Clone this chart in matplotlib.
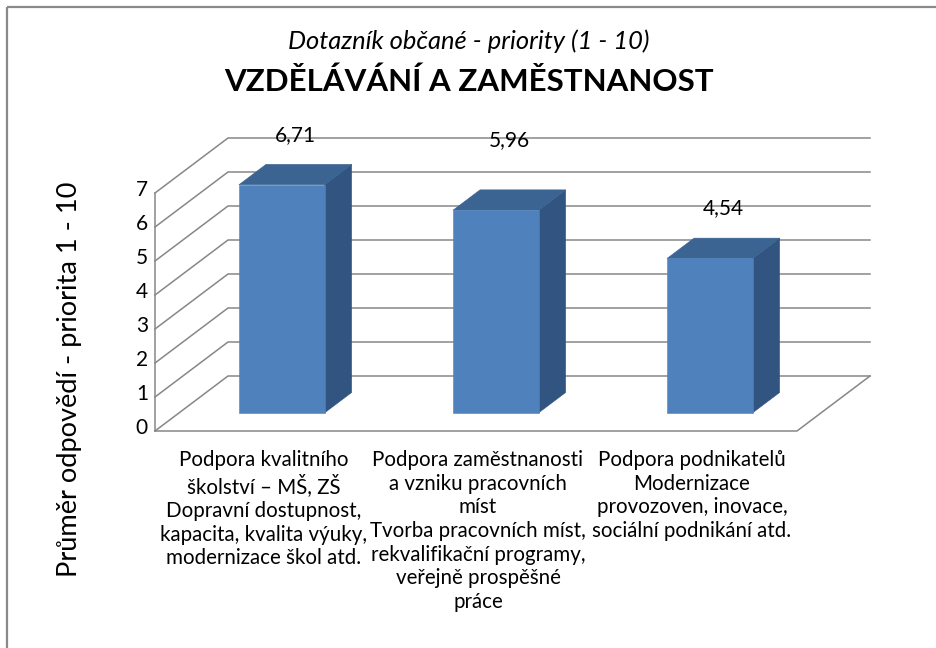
import matplotlib

matplotlib.use("Agg")

import matplotlib.pyplot as plt
from matplotlib.patches import Polygon, Rectangle

# survey results: mean priority score (1 - 10) per area
CATEGORIES = [
    "Podpora kvalitního\nškolství – MŠ, ZŠ\nDopravní dostupnost,\nkapacita, kvalita výuky,\nmodernizace škol atd.",
    "Podpora zaměstnanosti\na vzniku pracovních\nmíst\nTvorba pracovních míst,\nrekvalifikační programy,\nveřejně prospěšné\npráce",
    "Podpora podnikatelů\nModernizace\nprovozoven, inovace,\nsociální podnikání atd.",
]
VALUES = [6.71, 5.96, 4.54]
VALUE_LABELS = ["6,71", "5,96", "4,54"]
Y_TICKS = [0, 1, 2, 3, 4, 5, 6, 7]

SUBTITLE = "Dotazník občané - priority (1 - 10)"
TITLE = "VZDĚLÁVÁNÍ A ZAMĚSTNANOST"
Y_LABEL = "Průměr odpovědí - priorita 1 - 10"

FIG_W, FIG_H = 937, 648
DPI = 100
FONT = "Lato"

# oblique projection of the 3-D plot box, in pixels
ORIGIN = (155.0, 431.0)
CAT_PX = 214.0
VAL_PX = 34.0
DEPTH_PX = (73.0, -55.0)

BAR_LEFT, BAR_RIGHT = 0.28, 0.68
BAR_FRONT, BAR_BACK = 0.33, 0.70
LABEL_LIFT = [29, 50, 30]

GRID_COLOR = "#878787"
FRONT_COLOR = "#4F81BD"
TOP_COLOR = "#3B6492"
SIDE_COLOR = "#325480"


def project(cat: float, val: float, depth: float) -> tuple[float, float]:
    x = ORIGIN[0] + cat * CAT_PX + depth * DEPTH_PX[0]
    y = ORIGIN[1] - val * VAL_PX + depth * DEPTH_PX[1]
    return x, y


def draw_box(ax: plt.Axes) -> None:
    n = len(CATEGORIES)
    top = Y_TICKS[-1]
    # back wall and left wall gridlines
    for v in Y_TICKS:
        x0, y0 = project(0, v, 0)
        x1, y1 = project(0, v, 1)
        x2, y2 = project(n, v, 1)
        ax.plot([x0, x1, x2], [y0, y1, y2], color=GRID_COLOR, lw=1.1,
                solid_joinstyle="miter", zorder=1)
    # front-left axis edge
    xa, ya = project(0, 0, 0)
    xb, yb = project(0, top, 0)
    ax.plot([xa, xb], [ya, yb], color=GRID_COLOR, lw=1.1, zorder=1)
    # floor outline
    corners = [project(0, 0, 0), project(n, 0, 0), project(n, 0, 1)]
    ax.plot([c[0] for c in corners], [c[1] for c in corners],
            color=GRID_COLOR, lw=1.1, zorder=1)

    for v in Y_TICKS:
        x, y = project(0, v, 0)
        ax.text(x - 7, y - 3, str(v), ha="right", va="center",
                fontsize=15, family=FONT, color="black")


def draw_bars(ax: plt.Axes) -> None:
    for i, (value, label) in enumerate(zip(VALUES, VALUE_LABELS)):
        c0, c1 = i + BAR_LEFT, i + BAR_RIGHT
        front = [project(c0, 0, BAR_FRONT), project(c1, 0, BAR_FRONT),
                 project(c1, value, BAR_FRONT), project(c0, value, BAR_FRONT)]
        top = [project(c0, value, BAR_FRONT), project(c1, value, BAR_FRONT),
               project(c1, value, BAR_BACK), project(c0, value, BAR_BACK)]
        side = [project(c1, 0, BAR_FRONT), project(c1, 0, BAR_BACK),
                project(c1, value, BAR_BACK), project(c1, value, BAR_FRONT)]
        for pts, color in ((side, SIDE_COLOR), (top, TOP_COLOR), (front, FRONT_COLOR)):
            ax.add_patch(Polygon(pts, closed=True, facecolor=color,
                                 edgecolor=color, lw=0.4, zorder=3))

        mid = (BAR_FRONT + BAR_BACK) / 2
        lx, _ = project((c0 + c1) / 2, value, mid)
        _, ly = project(c0, value, BAR_BACK)
        ax.text(lx, ly - LABEL_LIFT[i], label, ha="center", va="center",
                fontsize=15, family=FONT, color="black", zorder=4)


def draw_labels(ax: plt.Axes) -> None:
    for i, text in enumerate(CATEGORIES):
        x, y = project(i + 0.5, 0, 0)
        ax.text(x + 2, y + 19, text, ha="center", va="top", ma="center",
                fontsize=14.8, family=FONT, linespacing=1.23, color="black")

    ax.text(FIG_W / 2, 41, SUBTITLE, ha="center", va="center",
            fontsize=18.4, family=FONT, style="italic")
    ax.text(FIG_W / 2, 82, TITLE, ha="center", va="center",
            fontsize=22.5, family=FONT, weight="bold")
    ax.text(70, 379, Y_LABEL, ha="center", va="center", rotation=90,
            fontsize=19.6, family=FONT)


def main() -> None:
    fig = plt.figure(figsize=(FIG_W / DPI, FIG_H / DPI), dpi=DPI)
    ax = fig.add_axes([0, 0, 1, 1])
    ax.set_xlim(0, FIG_W)
    ax.set_ylim(FIG_H, 0)
    ax.axis("off")

    # chart area border (runs off the right and bottom edges)
    ax.add_patch(Rectangle((7, 7), FIG_W, FIG_H, fill=False,
                           edgecolor="#8A8A8A", lw=1.6, zorder=0))

    draw_box(ax)
    draw_bars(ax)
    draw_labels(ax)

    fig.savefig("out.png", dpi=DPI, facecolor="white")
    plt.close(fig)


if __name__ == "__main__":
    main()
